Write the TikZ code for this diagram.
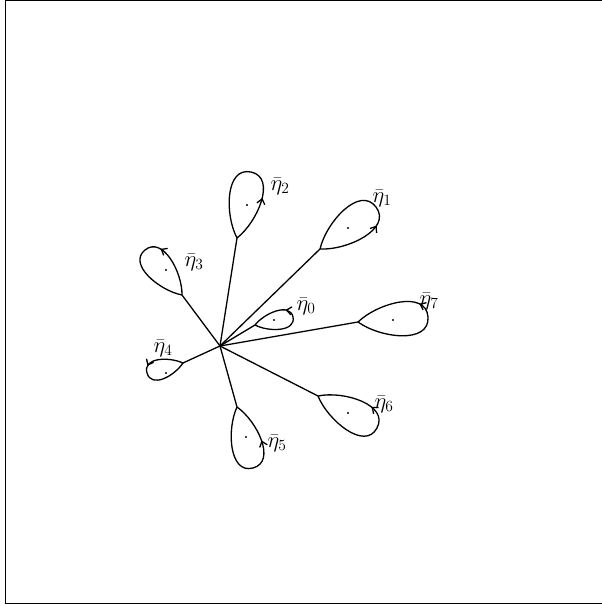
\documentclass[tikz,border=0pt]{standalone}
\usepackage{amsmath}
\usepackage{tikz}
\usetikzlibrary{arrows.meta, decorations.markings}
\tikzset{
  petal/.style={postaction={decorate, decoration={markings,
      mark=at position #1 with {\arrow{Straight Barb[length=5pt,width=8pt]}}}}},
  lbl/.style={font=\huge, inner sep=0pt, scale=1.08},
  spot/.style={circle, fill, inner sep=0pt, minimum size=2.2pt},
}

\begin{document}
\begin{tikzpicture}[x=1pt, y=1pt, line width=1.3pt]
    \useasboundingbox (0,0) rectangle (602,606);
    \draw[line width=1pt] (602,605) -- (5,605) -- (5,2) -- (602,2);
    \coordinate (o) at (220,260);
    % petal 0
    \coordinate (a0) at (255,281);
    \coordinate (t0) at (293,289);
    \draw (o) -- (a0);
    \draw[petal=0.62] (a0) to[out=-28,in=-78] (t0) to[out=102,in=52] (a0);
    \node[spot] (c0) at (274,286) {};
    \node[lbl] (l0) at (306,300) {$\bar\eta_0$};
    % petal 1
    \coordinate (a1) at (320,357);
    \coordinate (t1) at (376,399);
    \draw (o) -- (a1);
    \draw[petal=0.38] (a1) to[out=-3,in=-53] (t1) to[out=127,in=77] (a1);
    \node[spot] (c1) at (348,378) {};
    \node[lbl] (l1) at (382,408) {$\bar\eta_1$};
    % petal 2
    \coordinate (a2) at (237,368);
    \coordinate (t2) at (251,434);
    \draw (o) -- (a2);
    \draw[petal=0.3] (a2) to[out=38,in=-12] (t2) to[out=168,in=118] (a2);
    \node[spot] (c2) at (247,401) {};
    \node[lbl] (l2) at (280,420) {$\bar\eta_2$};
    % petal 3
    \coordinate (a3) at (182,311);
    \coordinate (t3) at (145,356);
    \draw (o) -- (a3);
    \draw[petal=0.38] (a3) to[out=89,in=39] (t3) to[out=219,in=169] (a3);
    \node[spot] (c3) at (166,336) {};
    \node[lbl] (l3) at (194,344) {$\bar\eta_3$};
    % petal 4
    \coordinate (a4) at (183,243);
    \coordinate (t4) at (147,233);
    \draw (o) -- (a4);
    \draw[petal=0.42, looseness=1.1] (a4) to[out=156,in=106] (t4) to[out=286,in=236] (a4);
    \node[spot] (c4) at (166,233) {};
    \node[lbl] (l4) at (163,258) {$\bar\eta_4$};
    % petal 5
    \coordinate (a5) at (237,199);
    \coordinate (t5) at (253,138);
    \draw (o) -- (a5);
    \draw[petal=0.72] (a5) to[out=245,in=195] (t5) to[out=15,in=325] (a5);
    \node[spot] (c5) at (246,169) {};
    \node[lbl] (l5) at (277,163) {$\bar\eta_5$};
    % petal 6
    \coordinate (a6) at (318,210);
    \coordinate (t6) at (377,178);
    \draw (o) -- (a6);
    \draw[petal=0.65] (a6) to[out=292,in=242] (t6) to[out=62,in=12] (a6);
    \node[spot] (c6) at (348,193) {};
    \node[lbl] (l6) at (384,202) {$\bar\eta_6$};
    % petal 7
    \coordinate (a7) at (358,284);
    \coordinate (t7) at (428,289);
    \draw (o) -- (a7);
    \draw[petal=0.6] (a7) to[out=-36,in=-86] (t7) to[out=94,in=44] (a7);
    \node[spot] (c7) at (393,286) {};
    \node[lbl] (l7) at (429,305) {$\bar\eta_7$};
\end{tikzpicture}
\end{document}
